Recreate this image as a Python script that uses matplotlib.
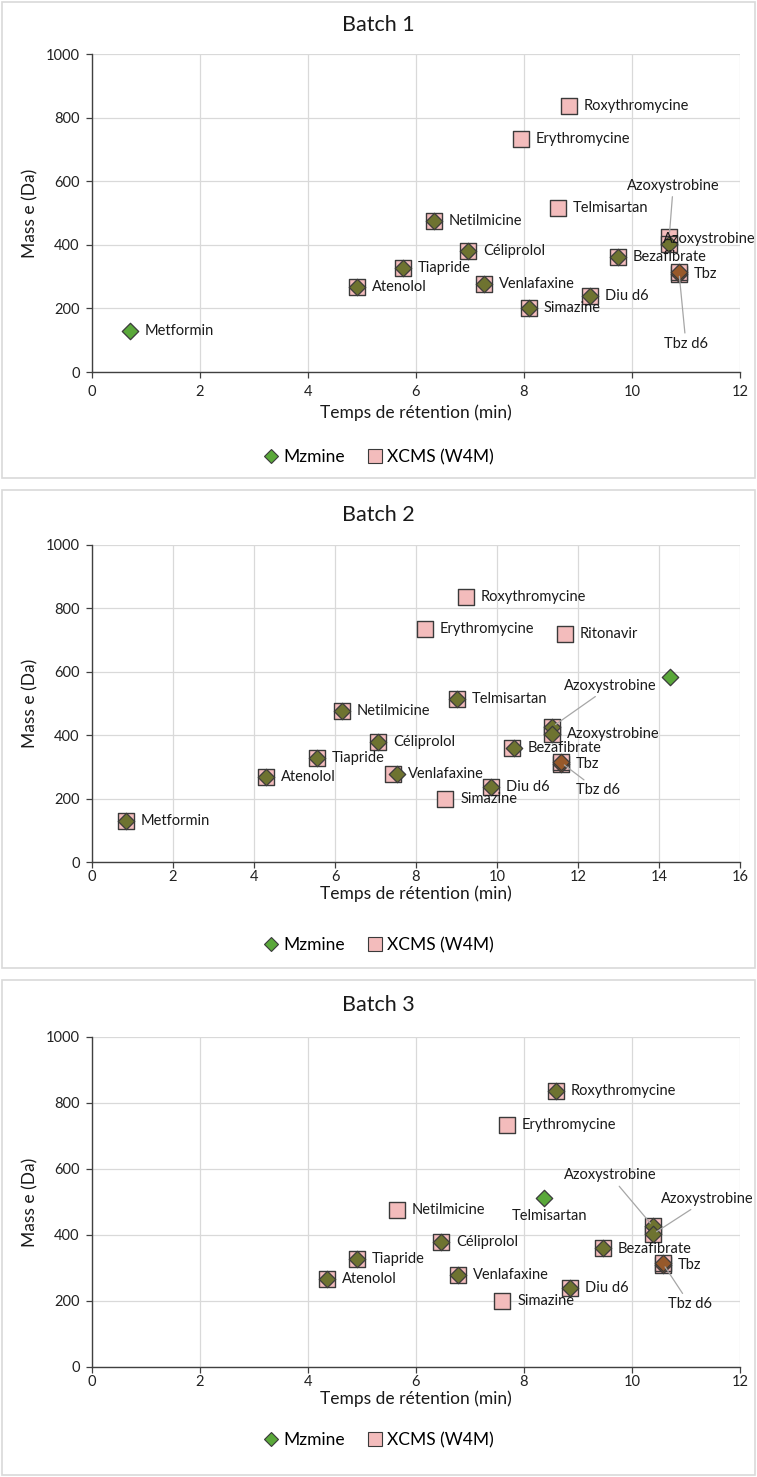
import matplotlib
matplotlib.use("Agg")
import matplotlib.pyplot as plt
from matplotlib.lines import Line2D
from matplotlib.patches import Rectangle
import numpy as np

plt.rcParams['font.family'] = ['Lato', 'DejaVu Sans']

# ---- data (retention time in min, mass in Da; None = not detected) ----
b1_names = ["Metformin", "Atenolol", "Tiapride", "Netilmicine", "Céliprolol", "Venlafaxine",
            "Simazine", "Diu d6", "Bezafibrate", "Azoxystrobine", "Azoxystrobine", "Tbz", "Tbz d6",
            "Telmisartan", "Erythromycine", "Roxythromycine"]
b1_mz_rt = [0.70, 4.91, 5.76, 6.33, 6.96, 7.26, 8.09, 9.22, 9.74, None, 10.69, 10.87, 10.87, None, None, None]
b1_mz_mass = [130, 267, 328, 475, 380, 278, 201, 239, 362, None, 403, 308, 314, None, None, None]
b1_xc_rt = [None, 4.91, 5.76, 6.33, 6.96, 7.26, 8.09, 9.22, 9.74, 10.69, 10.69, 10.87, 10.87, 8.63, 7.94, 8.83]
b1_xc_mass = [None, 267, 328, 475, 380, 278, 201, 239, 362, 426, 403, 308, 314, 515, 734, 837]

b2_names = ["Metformin", "Atenolol", "Tiapride", "Netilmicine", "Céliprolol", "Venlafaxine",
            "Simazine", "Diu d6", "Bezafibrate", "Azoxystrobine", "Azoxystrobine", "Tbz", "Tbz d6",
            "Telmisartan", "Erythromycine", "Roxythromycine", "Ritonavir", ""]
b2_mz_rt = [0.84, 4.30, 5.55, 6.17, 7.06, 7.52, None, 9.85, 10.43, 11.36, 11.36, 11.58, 11.58, 9.01, None, None, None, 14.28]
b2_mz_mass = [130, 267, 328, 475, 380, 278, None, 238, 361, 426, 403, 308, 314, 514, None, None, None, 585]
b2_xc_rt = [0.84, 4.30, 5.55, 6.17, 7.06, 7.44, 8.72, 9.85, 10.38, 11.36, 11.36, 11.58, 11.58, 9.01, 8.22, 9.23, 11.68, None]
b2_xc_mass = [130, 267, 328, 475, 380, 278, 200, 238, 361, 426, 403, 308, 314, 514, 734, 837, 720, None]

b3_names = ["Atenolol", "Tiapride", "Netilmicine", "Céliprolol", "Venlafaxine", "Simazine", "Diu d6",
            "Telmisartan", "Erythromycine", "Roxythromycine", "Bezafibrate", "Azoxystrobine",
            "Azoxystrobine", "Tbz", "Tbz d6"]
b3_mz_rt = [4.35, 4.91, None, 6.46, 6.78, None, 8.85, 8.37, None, 8.59, 9.46, 10.39, 10.39, 10.57, 10.57]
b3_mz_mass = [267, 328, None, 380, 278, None, 239, 513, None, 837, 361, 426, 403, 308, 314]
b3_xc_rt = [4.35, 4.91, 5.65, 6.46, 6.78, 7.60, 8.85, None, 7.68, 8.59, 9.46, 10.39, 10.39, 10.57, 10.57]
b3_xc_mass = [267, 328, 476, 380, 278, 200, 239, None, 734, 837, 361, 426, 403, 308, 314]

titles = ["Batch 1", "Batch 2", "Batch 3"]
xmax = [12, 16, 12]

# ---- label placement (pixel offsets from the point: dx, dy(down), ha, leader line) ----
b1_lab = {9: (4, -51, 'center', True), 10: (-6, -5, 'left', False), 12: (7, 72, 'center', True)}
b2_lab = {9: (12, -41, 'left', True), 12: (15, 28, 'left', True)}
b3_lab = {7: (6, 18, 'center', False), 11: (-43, -51, 'center', True),
          10: (15, 1, 'left', False), 12: (54, -35, 'center', True), 14: (27, 41, 'center', True)}

batches = [
    (b1_names, b1_mz_rt, b1_mz_mass, b1_xc_rt, b1_xc_mass, b1_lab),
    (b2_names, b2_mz_rt, b2_mz_mass, b2_xc_rt, b2_xc_mass, b2_lab),
    (b3_names, b3_mz_rt, b3_mz_mass, b3_xc_rt, b3_xc_mass, b3_lab),
]

W, H = 757, 1477
fig = plt.figure(figsize=(W / 100, H / 100), dpi=100)

# panel geometry in pixels: (axes top, axes bottom, title y, xlabel y, legend y, box top, box bottom, tick pad)
panels = [
    (54, 372, 25, 413, 457, 2, 478, 5),
    (545, 862, 515, 894, 945, 490, 968, 2),
    (1037, 1367, 1005, 1399, 1440, 980, 1475, 2),
]
ax_left, ax_right = 92, 740

green = '#5aa83a'
olive = '#6e7330'
brown = '#97592a'
pink = '#f3bcbc'
edge = '#3a3a3a'

for (names, mz_rt, mz_m, xc_rt, xc_m, lab), title, xm, geo in zip(batches, titles, xmax, panels):
    top, bot, ty, xly, ly, bt, bb, tpad = geo
    fig.patches.append(Rectangle((2 / W, 1 - bb / H), (W - 4) / W, (bb - bt) / H,
                                 transform=fig.transFigure, fill=False,
                                 edgecolor='#d9d9d9', lw=1.2))
    ax = fig.add_axes([ax_left / W, 1 - bot / H, (ax_right - ax_left) / W, (bot - top) / H])

    xs = [(r, m) for r, m in zip(xc_rt, xc_m) if r is not None]
    ax.scatter([p[0] for p in xs], [p[1] for p in xs], marker='s', s=120,
               facecolor=pink, edgecolor=edge, linewidth=1.0, zorder=3)

    for r, m in zip(mz_rt, mz_m):
        if r is None:
            continue
        n = sum(1 for q in xs if abs(q[0] - r) < 0.1 and abs(q[1] - m) < 10)
        c = green if n == 0 else (olive if n == 1 else brown)
        ax.scatter([r], [m], marker='D', s=70, facecolor=c, edgecolor=edge,
                   linewidth=0.9, zorder=4)

    for i, name in enumerate(names):
        if not name:
            continue
        r = xc_rt[i] if xc_rt[i] is not None else mz_rt[i]
        m = xc_m[i] if xc_m[i] is not None else mz_m[i]
        dx, dy, ha, leader = lab.get(i, (15, 0, 'left', False))
        kw = {}
        if leader:
            kw['arrowprops'] = dict(arrowstyle='-', color='#a6a6a6', lw=0.9,
                                    shrinkA=1, shrinkB=3)
        ax.annotate(name, xy=(r, m), xytext=(dx, -dy), textcoords='offset pixels',
                    ha=ha, va='center', fontsize=10.5, color='#1a1a1a', zorder=5, **kw)

    ax.set_xlim(0, xm)
    ax.set_ylim(0, 1000)
    ax.set_xticks(np.arange(0, xm + 1, 2))
    ax.set_yticks(np.arange(0, 1001, 200))
    ax.grid(True, color='#d9d9d9', lw=0.9)
    ax.set_axisbelow(True)
    for s in ['top', 'right']:
        ax.spines[s].set_visible(False)
    for s in ['left', 'bottom']:
        ax.spines[s].set_color('#404040')
        ax.spines[s].set_linewidth(1.0)
    ax.tick_params(length=4, width=0.9, color='#404040', labelsize=10.5,
                   labelcolor='#222222', pad=5)
    ax.tick_params(axis='x', pad=tpad)

    fig.text(0.5, 1 - ty / H, title, ha='center', va='center', fontsize=15.5, color='#1a1a1a')
    fig.text(416 / W, 1 - xly / H, "Temps de rétention (min)", ha='center', va='center',
             fontsize=12.5, color='#1a1a1a')
    fig.text(30 / W, 1 - (top + bot) / 2 / H, "Mass e (Da)", ha='center', va='center',
             rotation=90, fontsize=12.5, color='#1a1a1a')

    handles = [Line2D([], [], marker='D', ls='', markersize=7, markerfacecolor=green,
                      markeredgecolor=edge, markeredgewidth=0.8),
               Line2D([], [], marker='s', ls='', markersize=10, markerfacecolor=pink,
                      markeredgecolor=edge, markeredgewidth=0.8)]
    fig.legend(handles, ["Mzmine", "XCMS (W4M)"], loc='center', ncol=2,
               bbox_to_anchor=(378 / W, 1 - ly / H), frameon=False, fontsize=12.5,
               handletextpad=0.2, columnspacing=1.2, handlelength=1.0)

fig.savefig("out.png", dpi=100)
